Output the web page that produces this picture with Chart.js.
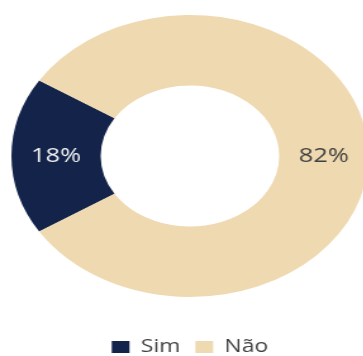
<!DOCTYPE html>
<html>
<head>
<meta charset="utf-8">
<script src="https://cdn.jsdelivr.net/npm/chart.js@4"></script>
<style>
  html, body { margin: 0; padding: 0; background: #fff; }
  #wrap { width: 363px; height: 356px; overflow: hidden; position: relative; }
  /* drawn 300 wide, then widened so the ring becomes an ellipse */
  #answers { display: block; transform: scaleX(1.266); transform-origin: 0 0; }
</style>
</head>
<body>
<div id="wrap">
  <canvas id="answers" width="300" height="366"></canvas>
</div>
<script>
const answerLabels = ["Sim", "Não"];
const answerPercent = [18, 82];
const sliceColors = ["#13234A", "#EFD9B0"];
const valueColors = ["#F4F4F4", "#404040"];

// writes the percentage in the middle of each ring segment
const percentLabels = {
  id: "percentLabels",
  afterDatasetsDraw(chart) {
    const ctx = chart.ctx;
    const meta = chart.getDatasetMeta(0);
    ctx.save();
    ctx.font = "20px 'Open Sans'";
    ctx.textAlign = "center";
    ctx.textBaseline = "middle";
    meta.data.forEach((arc, i) => {
      const pos = arc.tooltipPosition();
      ctx.fillStyle = valueColors[i];
      ctx.fillText(answerPercent[i] + "%", pos.x, pos.y);
    });
    ctx.restore();
  }
};

const answersChart = new Chart(document.getElementById("answers"), {
  type: "doughnut",
  data: {
    labels: answerLabels,
    datasets: [
      {
        data: answerPercent,
        backgroundColor: sliceColors,
        borderWidth: 0,
      },
    ],
  },
  options: {
    responsive: false,
    devicePixelRatio: 1,
    animation: false,
    radius: 141,
    cutout: "50%",
    rotation: 237.6,
    layout: { padding: 0 },
    plugins: {
      tooltip: { enabled: false },
      legend: {
        position: "bottom",
        // empty title only adds some room above the items
        title: { display: true, text: " ", font: { size: 14, lineHeight: 1 }, padding: 0 },
        labels: {
          font: { family: "'Open Sans'", size: 18 },
          color: "#404040",
          boxWidth: 14,
          boxHeight: 12,
          padding: 12,
        },
      },
    },
  },
  plugins: [percentLabels],
});
</script>
</body>
</html>
